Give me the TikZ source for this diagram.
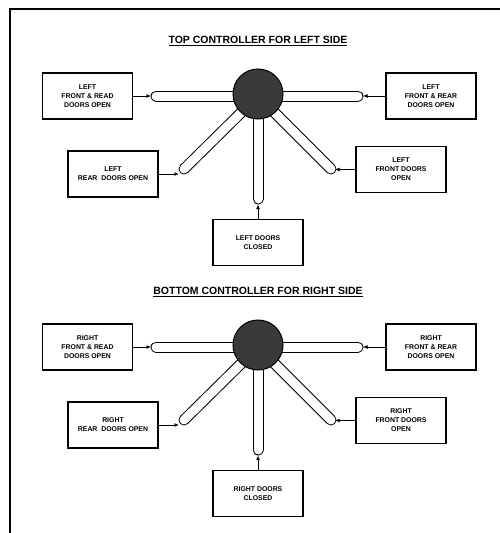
\documentclass[tikz,border=0pt]{standalone}
\usepackage{fontspec}
\setmainfont{Liberation Sans}
\usetikzlibrary{arrows.meta}
\definecolor{hubgray}{HTML}{3A3A3A}
\newcommand{\tubeline}[2]{\draw[line width=11pt,line cap=round] (#1) -- (#2);
	\draw[white,line width=9pt,line cap=round] (#1) -- (#2)}
\newcommand{\feed}[2]{\draw[feed] (#1) -- (#2)}
\tikzset{
	doorbox/.style={draw,line width=1.1pt,minimum width=90pt,minimum height=46pt,
		align=center,inner sep=1pt,font=\bfseries\fontsize{6.9}{9}\selectfont},
	heading/.style={font=\bfseries\fontsize{10.5}{12}\selectfont},
	feed/.style={-{Latex[length=4.5pt,width=4pt]},line width=1pt},
	hub/.style={circle,draw,line width=1pt,fill=hubgray,minimum size=50pt,inner sep=0pt}
}
\newcommand{\controller}[4]{
\begin{scope}[yshift=#1]
	\node[heading] (title#4) at (258,41) {\underline{#3}};
	\coordinate (hub#4) at (258,96);
	\coordinate (wend#4) at (156,96);
	\coordinate (eend#4) at (358,96);
	\coordinate (swend#4) at (184,169);
	\coordinate (seend#4) at (331,169);
	\coordinate (send#4) at (258,199);
	\tubeline{wend#4}{eend#4};
	\tubeline{hub#4}{swend#4};
	\tubeline{hub#4}{seend#4};
	\tubeline{hub#4}{send#4};
	\node[hub] (c#4) at (258,94) {};
	\node[doorbox] (fra#4) at (87.5,96) {#2\\FRONT \& READ\\DOORS OPEN};
	\node[doorbox] (frb#4) at (431,96) {#2\\FRONT \& REAR\\DOORS OPEN};
	\node[doorbox] (rear#4) at (113,174) {#2\\REAR\ \ DOORS OPEN};
	\node[doorbox] (front#4) at (401,169.5) {#2\\FRONT DOORS\\OPEN};
	\node[doorbox] (closed#4) at (258,242.5) {#2 DOORS\\CLOSED};
	\coordinate (wtip#4) at (151,96);
	\coordinate (etip#4) at (363,96);
	\coordinate (swtip#4) at (179,174);
	\coordinate (setip#4) at (335,169.5);
	\coordinate (stip#4) at (258,204.5);
	\feed{fra#4}{wtip#4};
	\feed{frb#4}{etip#4};
	\feed{rear#4}{swtip#4};
	\feed{front#4}{setip#4};
	\feed{closed#4}{stip#4};
\end{scope}}

\begin{document}
\begin{tikzpicture}[x=1pt,y=-1pt]
	\useasboundingbox[fill=white] (0,0) rectangle (500,533);
	\draw[line width=1.3pt] (500,9) -- (10,9) -- (10,533);
	\controller{0pt}{LEFT}{TOP CONTROLLER FOR LEFT SIDE}{1}
	\controller{-251pt}{RIGHT}{BOTTOM CONTROLLER FOR RIGHT SIDE}{2}
\end{tikzpicture}
\end{document}
